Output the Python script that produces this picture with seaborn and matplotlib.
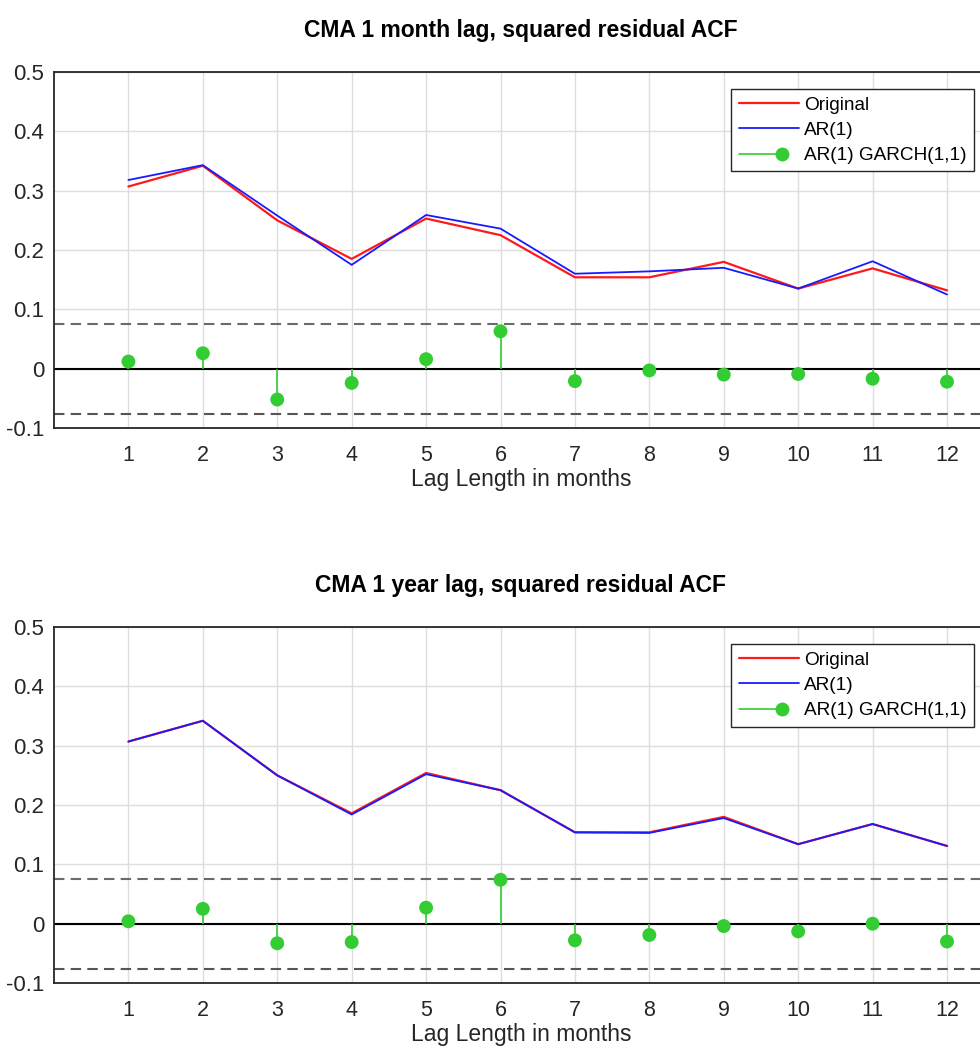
import numpy as np
import pandas as pd
import matplotlib
matplotlib.use("Agg")
import matplotlib.pyplot as plt
import seaborn as sns
from matplotlib.lines import Line2D
from matplotlib.legend_handler import HandlerLine2D

# values (squared residual ACF per lag)
lags = [1, 2, 3, 4, 5, 6, 7, 8, 9, 10, 11, 12]
month_original = [0.307, 0.342, 0.250, 0.185, 0.253, 0.225, 0.154, 0.154, 0.180, 0.135, 0.169, 0.132]
month_ar1 = [0.318, 0.343, 0.258, 0.175, 0.259, 0.236, 0.160, 0.164, 0.170, 0.135, 0.181, 0.125]
month_garch = [0.012, 0.026, -0.052, -0.024, 0.016, 0.063, -0.021, -0.003, -0.010, -0.009, -0.017, -0.022]
year_original = [0.307, 0.342, 0.250, 0.186, 0.254, 0.225, 0.154, 0.154, 0.180, 0.134, 0.168, 0.131]
year_ar1 = [0.307, 0.342, 0.250, 0.184, 0.252, 0.225, 0.154, 0.153, 0.178, 0.134, 0.168, 0.131]
year_garch = [0.004, 0.025, -0.033, -0.031, 0.027, 0.074, -0.028, -0.019, -0.004, -0.013, 0.000, -0.030]
conf_bound = 0.076

titles = ["CMA 1 month lag, squared residual ACF", "CMA 1 year lag, squared residual ACF"]
y_ticks = [-0.1, 0, 0.1, 0.2, 0.3, 0.4, 0.5]
y_ticklabels = ["-0.1", "0", "0.1", "0.2", "0.3", "0.4", "0.5"]

GREEN = "#33cc33"
TEXT = "#262626"

sns.set_theme(style="whitegrid")
plt.rcParams["font.family"] = ["Liberation Sans", "DejaVu Sans"]


class StemHandler(HandlerLine2D):
    # MATLAB style stem legend icon: line with the marker near its right end
    def create_artists(self, *args, **kwargs):
        arts = super().create_artists(*args, **kwargs)
        line = arts[0]
        x = line.get_xdata()
        y = line.get_ydata()
        line.set_data([x[0], x[0] + 0.72 * (x[-1] - x[0])], [y[0], y[0]])
        line.set_markevery([1])
        return arts


fig = plt.figure(figsize=(9.8, 10.48), dpi=100)
ax_top = fig.add_axes([0.0551, 0.5916, 0.953, 0.3397])
ax_bot = fig.add_axes([0.0551, 0.0620, 0.953, 0.3397])

panels = [
    (ax_top, month_original, month_ar1, month_garch),
    (ax_bot, year_original, year_ar1, year_garch),
]

for (ax, orig, ar1, garch), title in zip(panels, titles):
    df = pd.DataFrame({"lag": lags, "Original": orig, "AR(1)": ar1, "GARCH": garch})

    ax.axhline(0, color="black", lw=1.5, zorder=2)
    ax.axhline(conf_bound, color="#6a6a6a", lw=1.5, ls=(0, (5, 3)), zorder=2)
    ax.axhline(-conf_bound, color="#555555", lw=1.5, ls=(0, (5, 3)), zorder=2)

    sns.lineplot(data=df, x="lag", y="Original", color="#ff1a1a", lw=1.6, ax=ax, zorder=3)
    sns.lineplot(data=df, x="lag", y="AR(1)", color="#1a1aff", lw=1.3, ax=ax, zorder=4)

    ax.vlines(df["lag"], 0, df["GARCH"], color=GREEN, lw=1.2, zorder=5)
    sns.scatterplot(data=df, x="lag", y="GARCH", color=GREEN, s=100, edgecolor="none", ax=ax, zorder=6)

    ax.set_xlim(0, 12.55)
    ax.set_ylim(-0.1, 0.5)
    ax.set_xticks(lags)
    ax.set_yticks(y_ticks)
    ax.set_yticklabels(y_ticklabels)
    ax.tick_params(axis="x", length=0, pad=12, labelsize=15.5, labelcolor=TEXT)
    ax.tick_params(axis="y", length=0, pad=7, labelsize=16, labelcolor=TEXT)
    ax.grid(True, color="#dedede", lw=1)
    ax.set_facecolor("white")
    for sp in ax.spines.values():
        sp.set_visible(True)
        sp.set_color(TEXT)
        sp.set_linewidth(1.3)

    ax.set_xlabel("Lag Length in months", fontsize=16.5, color=TEXT, labelpad=2)
    ax.set_ylabel("")
    ax.set_title(title, fontsize=16.5, fontweight="bold", color="black", pad=25)

    handles = [
        Line2D([], [], color="#ff1a1a", lw=1.6),
        Line2D([], [], color="#1a1aff", lw=1.3),
        Line2D([], [], color=GREEN, lw=1.2, marker="o", markersize=10, markeredgecolor="none"),
    ]
    leg = ax.legend(
        handles, ["Original", "AR(1)", "AR(1) GARCH(1,1)"],
        loc="upper right", bbox_to_anchor=(0.985, 0.952),
        fontsize=13.7, frameon=True, fancybox=False, framealpha=1,
        edgecolor=TEXT, borderpad=0.38, labelspacing=0.42,
        handlelength=3.2, handletextpad=0.25, borderaxespad=0,
        handler_map={handles[2]: StemHandler(numpoints=1)},
    )
    leg.get_frame().set_linewidth(1.0)
    for t in leg.get_texts():
        t.set_color("black")

fig.savefig("out.png", dpi=100, facecolor="white")
